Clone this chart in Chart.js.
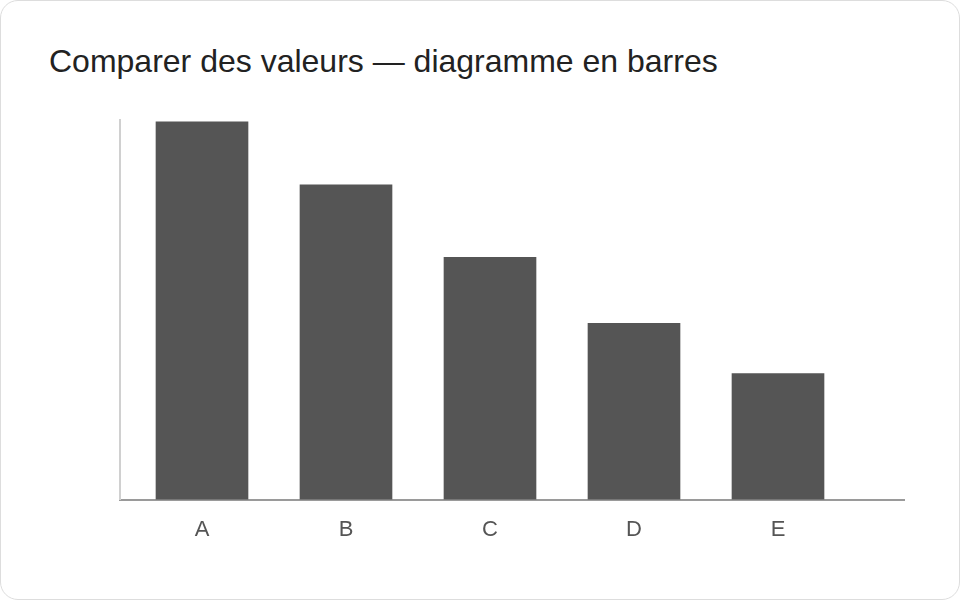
<!DOCTYPE html>
<html lang="fr">
<head>
<meta charset="utf-8">
<title>Comparer des valeurs — diagramme en barres</title>
<script src="https://cdn.jsdelivr.net/npm/chart.js@4/dist/chart.umd.min.js"></script>
<style>
    html, body {
        margin: 0;
        padding: 0;
        background: #ffffff;
        font-family: "Liberation Sans", Arial, Helvetica, sans-serif;
    }
    .card {
        position: relative;
        width: 958px;
        height: 598px;
        border: 1px solid #dddddd;
        border-radius: 18px;
        background: #ffffff;
        overflow: hidden;
    }
    .card h1 {
        position: absolute;
        left: 48px;
        top: 42px;
        margin: 0;
        font-size: 32px;
        font-weight: normal;
        color: #222222;
        line-height: 36px;
    }
    .chart-box {
        position: absolute;
        left: -1px;
        top: -1px;
        width: 960px;
        height: 600px;
    }
</style>
</head>
<body>
<div class="card">
    <h1>Comparer des valeurs — diagramme en barres</h1>
    <div class="chart-box"><canvas id="barChart"></canvas></div>
</div>
<script>
const categories = ['A', 'B', 'C', 'D', 'E'];
const values = [120, 100, 77, 56, 40];
const yMax = 120.6;

document.addEventListener('DOMContentLoaded', () => {
    createBarChart();
});

function createBarChart() {
    const ctx = document.getElementById('barChart').getContext('2d');

    new Chart(ctx, {
        type: 'bar',
        data: {
            datasets: [{
                data: values.map((v, i) => ({ x: i, y: v })),
                backgroundColor: '#555555',
                borderWidth: 0,
                barThickness: 92
            }]
        },
        options: {
            responsive: true,
            maintainAspectRatio: false,
            animation: false,
            layout: {
                padding: { top: 120, left: 120, right: 56, bottom: 40 }
            },
            plugins: {
                legend: { display: false },
                tooltip: { enabled: false }
            },
            scales: {
                x: {
                    type: 'linear',
                    offset: false,
                    min: -82 / 144,
                    max: 4 + 126 / 144,
                    afterBuildTicks: scale => {
                        scale.ticks = categories.map((_, i) => ({ value: i }));
                    },
                    grid: { display: false, drawTicks: false },
                    border: { display: true, color: '#9a9a9a', width: 2 },
                    ticks: {
                        autoSkip: false,
                        maxRotation: 0,
                        padding: 17,
                        color: '#555555',
                        font: { family: '"Liberation Sans", Arial, sans-serif', size: 22 },
                        callback: value => categories[value] ?? ''
                    }
                },
                y: {
                    min: 0,
                    max: yMax,
                    grid: { display: false, drawTicks: false },
                    border: { display: true, color: '#d0d0d0', width: 2 },
                    ticks: { display: false }
                }
            }
        }
    });
}
</script>
</body>
</html>
